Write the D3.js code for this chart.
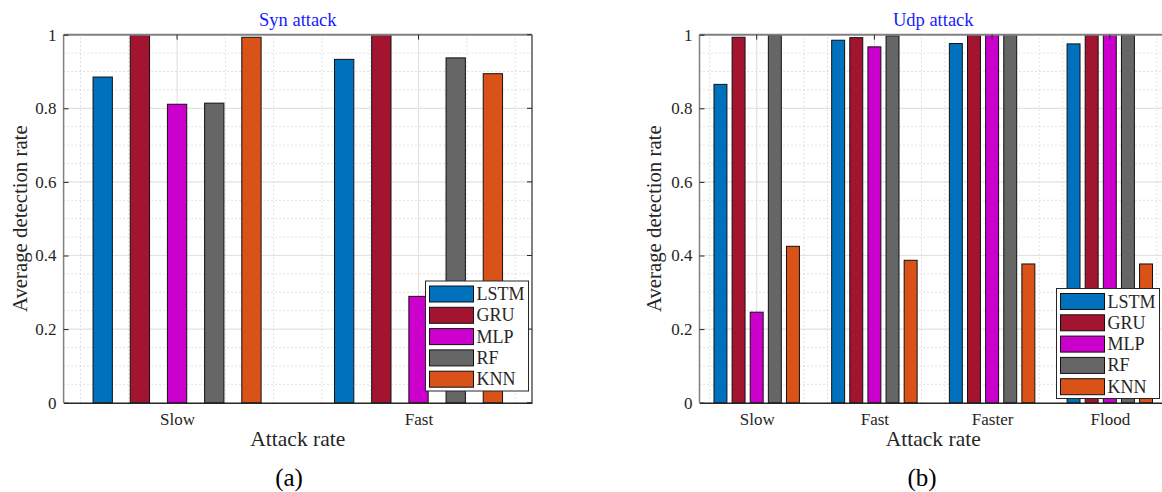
<!DOCTYPE html>
<html>
<head>
<meta charset="utf-8">
<title>Detection rate</title>
<script src="https://cdn.jsdelivr.net/npm/d3@7"></script>
<style>
	body { margin: 0; background: #fff; }
	svg text { font-family: "Liberation Serif", "DejaVu Serif", "Times New Roman", Times, serif !important; fill: #262626; }
</style>
</head>
<body>
<svg id="chart" width="1162" height="492"></svg>
<script>
// models (legend order) and colours
const models = ["LSTM", "GRU", "MLP", "RF", "KNN"]
const colors = ["#0072BD", "#A2142F", "#CC00CC", "#666666", "#D95319"]

// (a) Syn attack
const synRates = ["Slow", "Fast"]
const synLSTM = [0.885, 0.933]
const synGRU  = [1.0, 1.0]
const synMLP  = [0.811, 0.289]
const synRF   = [0.814, 0.937]
const synKNN  = [0.993, 0.894]

// (b) Udp attack
const udpRates = ["Slow", "Fast", "Faster", "Flood"]
const udpLSTM = [0.865, 0.985, 0.976, 0.975]
const udpGRU  = [0.993, 0.992, 1.0, 1.0]
const udpMLP  = [0.246, 0.967, 1.0, 1.0]
const udpRF   = [0.998, 0.997, 1.0, 0.999]
const udpKNN  = [0.425, 0.387, 0.377, 0.377]

const yTicks = [0, 0.2, 0.4, 0.6, 0.8, 1]
const serif = "'Liberation Serif', 'DejaVu Serif', serif"

let svg = d3.select("#chart").attr("font-family", serif)

function drawPanel(opt) {
	let rates = opt.rates
	let series = opt.series
	let x = d3.scaleLinear().domain(opt.xDomain).range([opt.left, opt.right])
	let y = d3.scaleLinear().domain([0, 1]).range([402.7, 34.7])
	let g = svg.append("g")

	// minor grid (dotted)
	let minorY = d3.range(0, 1.0001, 0.05).filter(v => Math.abs(v * 5 - Math.round(v * 5)) > 1e-6)
	g.selectAll(".my").data(minorY).enter().append("line")
		.attr("x1", opt.left).attr("x2", opt.right)
		.attr("y1", d => y(d)).attr("y2", d => y(d))
		.attr("stroke", "#c4c4c4").attr("stroke-width", 1).attr("stroke-dasharray", "1,3")
	let minorX = d3.range(0.6, opt.xDomain[1], 0.2).filter(v => Math.abs(v - Math.round(v)) > 1e-6)
	g.selectAll(".mx").data(minorX).enter().append("line")
		.attr("x1", d => x(d)).attr("x2", d => x(d))
		.attr("y1", y(0)).attr("y2", y(1))
		.attr("stroke", "#c4c4c4").attr("stroke-width", 1).attr("stroke-dasharray", "1,3")

	// major grid
	g.selectAll(".gy").data(yTicks.slice(1, -1)).enter().append("line")
		.attr("x1", opt.left).attr("x2", opt.right)
		.attr("y1", d => y(d)).attr("y2", d => y(d))
		.attr("stroke", "#e2e2e2").attr("stroke-width", 1.2)
	g.selectAll(".gx").data(rates).enter().append("line")
		.attr("x1", (d, i) => x(i + 1)).attr("x2", (d, i) => x(i + 1))
		.attr("y1", y(0)).attr("y2", y(1))
		.attr("stroke", "#e2e2e2").attr("stroke-width", 1.2)

	// bars
	let step = 0.154
	series.forEach((vals, s) => {
		g.append("g").selectAll("rect").data(vals).enter().append("rect")
			.attr("x", (d, i) => x(i + 1 + (s - 2) * step - opt.barW / 2))
			.attr("width", x(opt.barW) - x(0))
			.attr("y", d => y(d))
			.attr("height", d => y(0) - y(d))
			.attr("fill", colors[s])
			.attr("stroke", "#111").attr("stroke-width", 1)
	})

	// frame
	g.append("line").attr("x1", opt.left).attr("x2", opt.right).attr("y1", y(1)).attr("y2", y(1))
		.attr("stroke", "#808080").attr("stroke-width", 2)
	g.append("line").attr("x1", opt.right).attr("x2", opt.right).attr("y1", y(0)).attr("y2", y(1))
		.attr("stroke", "#808080").attr("stroke-width", 2)
	g.append("line").attr("x1", opt.left).attr("x2", opt.left).attr("y1", y(0)).attr("y2", y(1))
		.attr("stroke", "#808080").attr("stroke-width", 1.5)

	// axes
	let yAxis = d3.axisLeft(y).tickValues(yTicks).tickSize(-5).tickPadding(7)
		.tickFormat(d => d === 0 || d === 1 ? d3.format("d")(d) : d3.format(".1f")(d))
	let ya = g.append("g").attr("transform", `translate(${opt.left},0)`).call(yAxis)
	ya.attr("font-family", serif)
	ya.select(".domain").remove()
	ya.selectAll("line").attr("stroke", "#262626")
	ya.selectAll("text").style("font-size", "17px").attr("fill", "#262626")
	// right side ticks
	g.selectAll(".rt").data(yTicks).enter().append("line")
		.attr("x1", opt.right).attr("x2", opt.right - 5)
		.attr("y1", d => y(d)).attr("y2", d => y(d))
		.attr("stroke", "#262626")
	// top ticks
	g.selectAll(".tt").data(rates).enter().append("line")
		.attr("x1", (d, i) => x(i + 1)).attr("x2", (d, i) => x(i + 1))
		.attr("y1", y(1)).attr("y2", y(1) + 5)
		.attr("stroke", "#262626")

	let xAxis = d3.axisBottom(x).tickValues(d3.range(1, rates.length + 1))
		.tickFormat(d => rates[d - 1]).tickSize(0).tickPadding(10)
	let xa = g.append("g").attr("transform", `translate(0,${y(0)})`).call(xAxis)
	xa.attr("font-family", serif)
	xa.select(".domain").attr("stroke", "#262626").attr("stroke-width", 1.5)
	xa.selectAll("text").style("font-size", "17px").attr("fill", "#262626")

	// titles
	let cx = (opt.left + opt.right) / 2
	g.append("text").attr("x", cx).attr("y", 26).attr("text-anchor", "middle")
		.style("font-size", "18.5px").style("fill", "#1a1aff").text(opt.title)
	g.append("text").attr("x", cx).attr("y", 446).attr("text-anchor", "middle")
		.style("font-size", "21.5px").text("Attack rate")
	g.append("text").attr("transform", `translate(${opt.yLabelX},${(y(0) + y(1)) / 2}) rotate(-90)`)
		.attr("text-anchor", "middle").style("font-size", "20.8px").text("Average detection rate")
	g.append("text").attr("x", opt.capX).attr("y", 486).attr("text-anchor", "middle")
		.style("font-size", "25px").style("fill", "#000").text(opt.caption)

	// legend
	let lg = g.append("g").attr("transform", `translate(${opt.legX},${opt.legY})`)
	lg.append("rect").attr("width", 103).attr("height", 110)
		.attr("fill", "#fff").attr("stroke", "#262626").attr("stroke-width", 1)
	models.forEach((m, i) => {
		lg.append("rect").attr("x", 4).attr("y", 5 + i * 21.3).attr("width", 44).attr("height", 16)
			.attr("fill", colors[i]).attr("stroke", "#111").attr("stroke-width", 1)
		lg.append("text").attr("x", 51).attr("y", 19 + i * 21.3)
			.style("font-size", "18px").text(m)
	})
}

drawPanel({
	rates: synRates,
	series: [synLSTM, synGRU, synMLP, synRF, synKNN],
	xDomain: [0.53, 2.47], left: 63.6, right: 532,
	barW: 0.08, title: "Syn attack", caption: "(a)", capX: 289,
	yLabelX: 27, legX: 425.5, legY: 281
})

drawPanel({
	rates: udpRates,
	series: [udpLSTM, udpGRU, udpMLP, udpRF, udpKNN],
	xDomain: [0.514, 4.486], left: 699.5, right: 1167,
	barW: 0.11, title: "Udp attack", caption: "(b)", capX: 922,
	yLabelX: 661, legX: 1056.5, legY: 288.5
})
</script>
</body>
</html>
